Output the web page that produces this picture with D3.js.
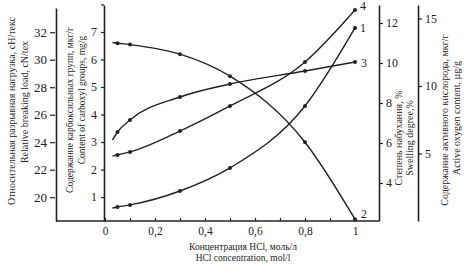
<!DOCTYPE html>
<html><head><meta charset="utf-8">
<script src="https://cdn.jsdelivr.net/npm/d3@7"></script>
<style>body{margin:0;background:#fff}svg{display:block}text{font-family:"Liberation Serif","DejaVu Serif",serif;fill:#222}</style>
</head><body><svg id="c" width="472" height="265"></svg>
<script>
// HCl concentration, mol/l
const conc = [0.03, 0.05, 0.1, 0.3, 0.5, 0.8, 1.0];
// curve 1: active oxygen content, µg/g
const activeOxygen = [0.96, 1.04, 1.19, 2.22, 3.93, 8.52, 14.3];
// curve 2: relative breaking load, cN/tex
const breakingLoad = [31.25, 31.2, 31.1, 30.4, 28.8, 24.0, 18.4];
// curve 3: swelling degree, %
const swelling = [6.15, 6.55, 7.15, 8.3, 8.95, 9.6, 10.05];
// curve 4: content of carboxyl groups, mg/g
const carboxyl = [2.49, 2.53, 2.64, 3.4, 4.31, 5.91, 7.8];

const xTicksMajor = [0, 0.2, 0.4, 0.6, 0.8, 1];
const xTickLabels = ["0", "0,2", "0,4", "0,6", "0,8", "1"];
const loadTicks = [20, 22, 24, 26, 28, 30, 32];
const carbTicks = [1, 2, 3, 4, 5, 6, 7, 8];
const swellTicks = [4, 6, 8, 10, 12];
const oxyTicks = [5, 10, 15];

const svg = d3.select("#c");
const ink = "#222";
const yBottom = 221, yTop = 5;

const x = d3.scaleLinear().domain([0, 1]).range([105, 355]);
const yLoad = d3.scaleLinear().domain([18.27, 33.76]).range([yBottom, 8]);
const yCarb = d3.scaleLinear().domain([0.13, 7.98]).range([yBottom, yTop]);
const ySwell = d3.scaleLinear().domain([2.1, 12.9]).range([yBottom, yTop]);
const yOxy = d3.scaleLinear().domain([0, 16]).range([yBottom, yTop]);

function styleAxis(g, fs) {
  g.selectAll("path.domain").attr("stroke", ink).attr("stroke-width", 1.6);
  g.selectAll(".tick line").attr("stroke", ink).attr("stroke-width", 1.2);
  g.selectAll(".tick text").attr("font-size", fs).attr("font-family", '"Liberation Serif",serif').attr("fill", ink);
}

// left axis 1: breaking load
const gL1 = svg.append("g").attr("transform", "translate(56,0)")
  .call(d3.axisLeft(yLoad).tickValues(loadTicks).tickSize(6).tickPadding(3).tickSizeOuter(0));
gL1.selectAll(".tick line").attr("x2", -6).attr("x1", -1);
styleAxis(gL1, 13);

// left axis 2: carboxyl
const gL2 = svg.append("g").attr("transform", "translate(104,0)")
  .call(d3.axisLeft(yCarb).tickValues(carbTicks).tickSize(3).tickPadding(4).tickSizeOuter(0)
    .tickFormat(d => d === 8 ? "" : d));
styleAxis(gL2, 12);

// right axis 1: swelling
const gR1 = svg.append("g").attr("transform", "translate(379,0)")
  .call(d3.axisRight(ySwell).tickValues(swellTicks).tickSize(4).tickPadding(3).tickSizeOuter(0));
styleAxis(gR1, 12);

// right axis 2: active oxygen
const gR2 = svg.append("g").attr("transform", "translate(418,0)")
  .call(d3.axisRight(yOxy).tickValues(oxyTicks).tickSize(4).tickPadding(3).tickSizeOuter(0));
styleAxis(gR2, 12);

// bottom axis
svg.append("line").attr("x1", 56).attr("x2", 379).attr("y1", yBottom).attr("y2", yBottom)
  .attr("stroke", ink).attr("stroke-width", 1.6);
const gB = svg.append("g").attr("transform", `translate(0,${yBottom})`)
  .call(d3.axisBottom(x).tickValues(d3.range(0, 1.01, 0.1)).tickSize(-3).tickPadding(6)
    .tickFormat(d => { const i = xTicksMajor.findIndex(v => Math.abs(v - d) < 1e-6); return i >= 0 ? xTickLabels[i] : ""; }));
gB.select("path.domain").remove();
styleAxis(gB, 11.5);

// axis titles
function vtext(cx, cy, str, fs) {
  svg.append("text").attr("transform", `translate(${cx},${cy}) rotate(-90)`)
    .attr("text-anchor", "middle").attr("font-size", fs).text(str);
}
vtext(15, 111, "Относительная разрывная нагрузка, сН/текс", 10);
vtext(28, 102, "Relative breaking load, cN/tex", 10);
vtext(73, 110, "Содержание карбоксильных групп, мкг/г", 9.5);
vtext(85, 100, "Content of carboxyl groups, mg/g", 9.5);
vtext(402, 138, "Степень набухания, %", 10);
vtext(413, 138, "Swelling degree,%", 10);
vtext(448, 120, "Содержание активного кислорода, мкг/г", 10);
vtext(460, 118, "Active oxygen content, µg/g", 10);

svg.append("text").attr("x", 243).attr("y", 250).attr("text-anchor", "middle").attr("font-size", 9.5)
  .text("Концентрация HCl, моль/л");
svg.append("text").attr("x", 243).attr("y", 261).attr("text-anchor", "middle").attr("font-size", 9.5)
  .text("HCl concentration, mol/l");

// curves
const series = [
  { id: "1", vals: activeOxygen, y: yOxy, lx: 5, ly: 0 },
  { id: "2", vals: breakingLoad, y: yLoad, lx: 6, ly: -5 },
  { id: "3", vals: swelling, y: ySwell, lx: 6, ly: 1 },
  { id: "4", vals: carboxyl, y: yCarb, lx: 5, ly: -4 }
];
series.forEach(s => {
  const pts = conc.map((c, i) => [c, s.vals[i]]);
  const line = d3.line().x(d => x(d[0])).y(d => s.y(d[1])).curve(d3.curveMonotoneX);
  svg.append("path").attr("d", line(pts)).attr("fill", "none").attr("stroke", ink).attr("stroke-width", 1.4);
  svg.selectAll(null).data(pts.slice(1)).enter().append("circle")
    .attr("cx", d => x(d[0])).attr("cy", d => s.y(d[1])).attr("r", 2).attr("fill", ink);
  const last = pts[pts.length - 1];
  svg.append("text").attr("x", x(last[0]) + s.lx).attr("y", s.y(last[1]) + s.ly + 4)
    .attr("font-size", 12).text(s.id);
});
</script></body></html>
